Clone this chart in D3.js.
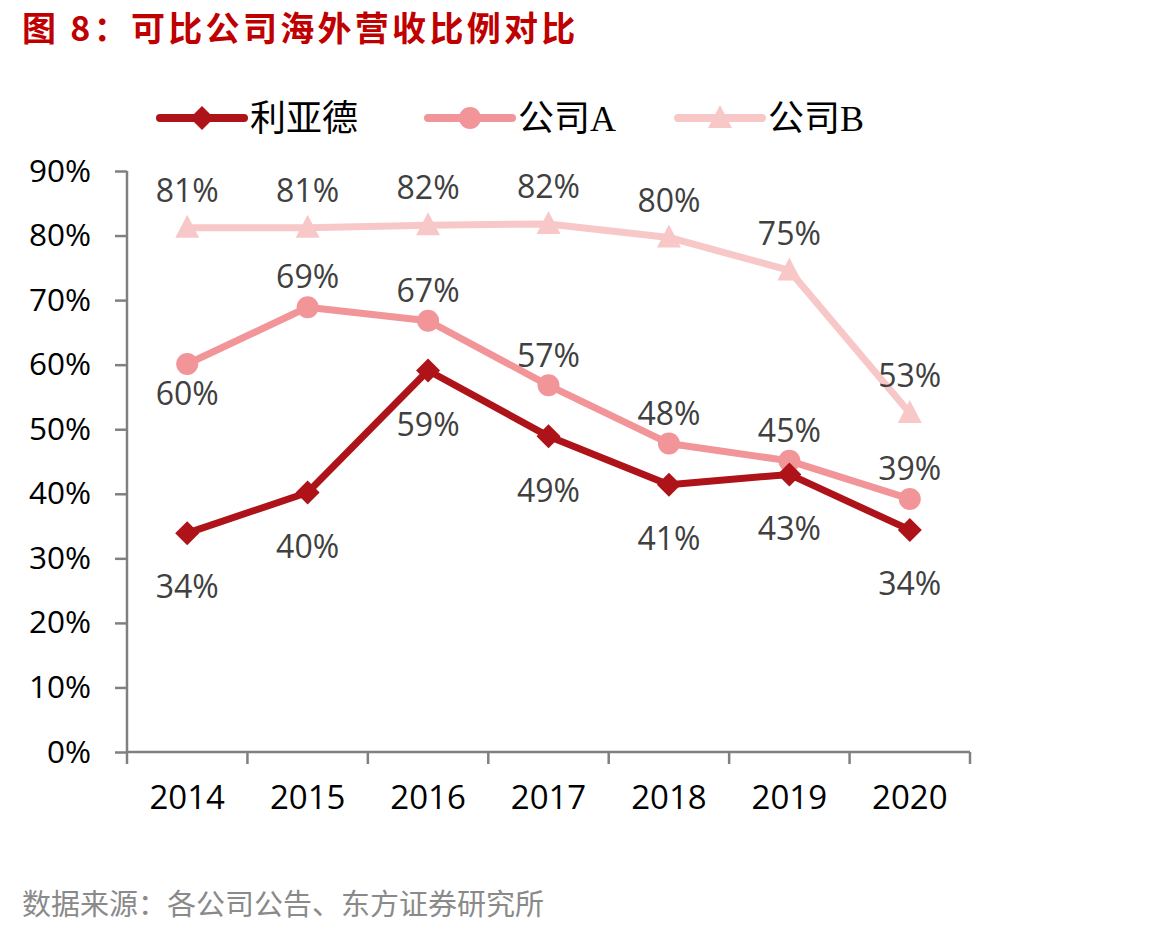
<!DOCTYPE html>
<html><head><meta charset="utf-8">
<script src="https://cdn.jsdelivr.net/npm/d3@7"></script>
<style>body{margin:0;background:#fff}svg{display:block}</style>
</head><body>
<svg id="c" width="1165" height="934"></svg>
<script>
const years = ["2014","2015","2016","2017","2018","2019","2020"];
const leyard = [33.9, 40.2, 59.1, 48.9, 41.4, 43.0, 34.4];
const compA = [60.1, 68.9, 66.8, 56.8, 47.8, 45.1, 39.2];
const compB = [81.2, 81.2, 81.6, 81.8, 79.7, 74.6, 52.5];
const leyardLabels = ["34%","40%","59%","49%","41%","43%","34%"];
const compALabels = ["60%","69%","67%","57%","48%","45%","39%"];
const compBLabels = ["81%","81%","82%","82%","80%","75%","53%"];
const yTicks = [0,10,20,30,40,50,60,70,80,90];

const svg = d3.select("#c");
const cjk = "'Noto Sans CJK SC','Noto Sans',sans-serif";
const num = "'Open Sans','Noto Sans',sans-serif";

const x = d3.scaleBand().domain(years).range([127, 970]);
const y = d3.scaleLinear().domain([0, 90]).range([752, 171]);

// title
svg.append("text").attr("x", 22).attr("y", 41).attr("fill", "#c00000")
  .attr("font-family", cjk).attr("font-weight", "bold").attr("font-size", 34)
  .attr("letter-spacing", 3.3)
  .text("图 8：可比公司海外营收比例对比");

// source
svg.append("text").attr("x", 22).attr("y", 915).attr("fill", "#8a8a8a")
  .attr("font-family", cjk).attr("font-size", 29)
  .text("数据来源：各公司公告、东方证券研究所");

const axisColor = "#808080";
// y axis
const ya = svg.append("g").attr("transform", "translate(127,0)")
  .call(d3.axisLeft(y).tickValues(yTicks).tickSize(12).tickPadding(24).tickFormat(d => d + "%"));
ya.selectAll("path,line").attr("stroke", axisColor).attr("stroke-width", 2.5);
ya.select(".domain").attr("d", "M0," + y(90) + "V" + y(0));
ya.selectAll("text").attr("font-family", num).attr("font-size", 31.5).attr("fill", "#000");

// x axis
const xa = svg.append("g").attr("transform", "translate(0,752)")
  .call(d3.axisBottom(x).tickSize(0).tickPadding(34));
xa.select(".domain").attr("stroke", axisColor).attr("stroke-width", 2.5).attr("d", "M127,0H970");
xa.selectAll("text").attr("font-family", num).attr("font-size", 33).attr("fill", "#000");
const bounds = years.map(d => x(d)).concat([x(years[years.length-1]) + x.bandwidth()]);
xa.selectAll(".bt").data(bounds).enter().append("line")
  .attr("x1", d => d).attr("x2", d => d).attr("y1", 0).attr("y2", 12)
  .attr("stroke", axisColor).attr("stroke-width", 2.5);

const cx = d => x(d) + x.bandwidth() / 2;
const line = d3.line().x(d => cx(d[0])).y(d => y(d[1]));

const series = [
  {name: "公司B", vals: compB, labels: compBLabels, color: "#f8c8c9", shape: "tri", dy: -37},
  {name: "公司A", vals: compA, labels: compALabels, color: "#f29599", shape: "circle", dy: -30},
  {name: "利亚德", vals: leyard, labels: leyardLabels, color: "#ae1319", shape: "diamond", dy: 54}
];

function marker(g, shape, color) {
  if (shape === "circle") g.append("circle").attr("r", 11).attr("fill", color);
  else if (shape === "diamond") g.append("path").attr("d", "M0,-12L12,0L0,12L-12,0Z").attr("fill", color);
  else g.append("path").attr("d", "M0,-13L12,10L-12,10Z").attr("fill", color);
}

series.forEach(s => {
  const pts = years.map((yr, i) => [yr, s.vals[i]]);
  svg.append("path").attr("d", line(pts)).attr("fill", "none")
    .attr("stroke", s.color).attr("stroke-width", 7).attr("stroke-linejoin", "round");
  pts.forEach(p => {
    const g = svg.append("g").attr("transform", `translate(${cx(p[0])},${y(p[1])})`);
    marker(g, s.shape, s.color);
  });
});

// labels
series.forEach(s => {
  years.forEach((yr, i) => {
    let dy = s.dy;
    if (s.name === "公司A" && i === 0) dy = 30;
    svg.append("text").attr("x", cx(yr)).attr("y", y(s.vals[i]) + dy)
      .attr("dy", "0.35em").attr("text-anchor", "middle")
      .attr("font-family", num).attr("font-size", 32).attr("fill", "#404040")
      .text(s.labels[i]);
  });
});

// legend
const legendItems = [
  {name: "利亚德", color: "#ae1319", shape: "diamond", x0: 160},
  {name: "公司A", color: "#f29599", shape: "circle", x0: 428},
  {name: "公司B", color: "#f8c8c9", shape: "tri", x0: 678}
];
legendItems.forEach(l => {
  const g = svg.append("g").attr("transform", `translate(${l.x0},118)`);
  g.append("line").attr("x1", 0).attr("x2", 84).attr("stroke", l.color)
    .attr("stroke-width", 8).attr("stroke-linecap", "round");
  const m = g.append("g").attr("transform", "translate(42,0)");
  marker(m, l.shape, l.color);
  g.append("text").attr("x", 90).attr("y", 0).attr("dy", "0.35em")
    .attr("font-family", "'Liberation Serif','Noto Sans CJK SC',serif").attr("font-size", 36)
    .attr("fill", "#000").text(l.name);
});
</script>
</body></html>
